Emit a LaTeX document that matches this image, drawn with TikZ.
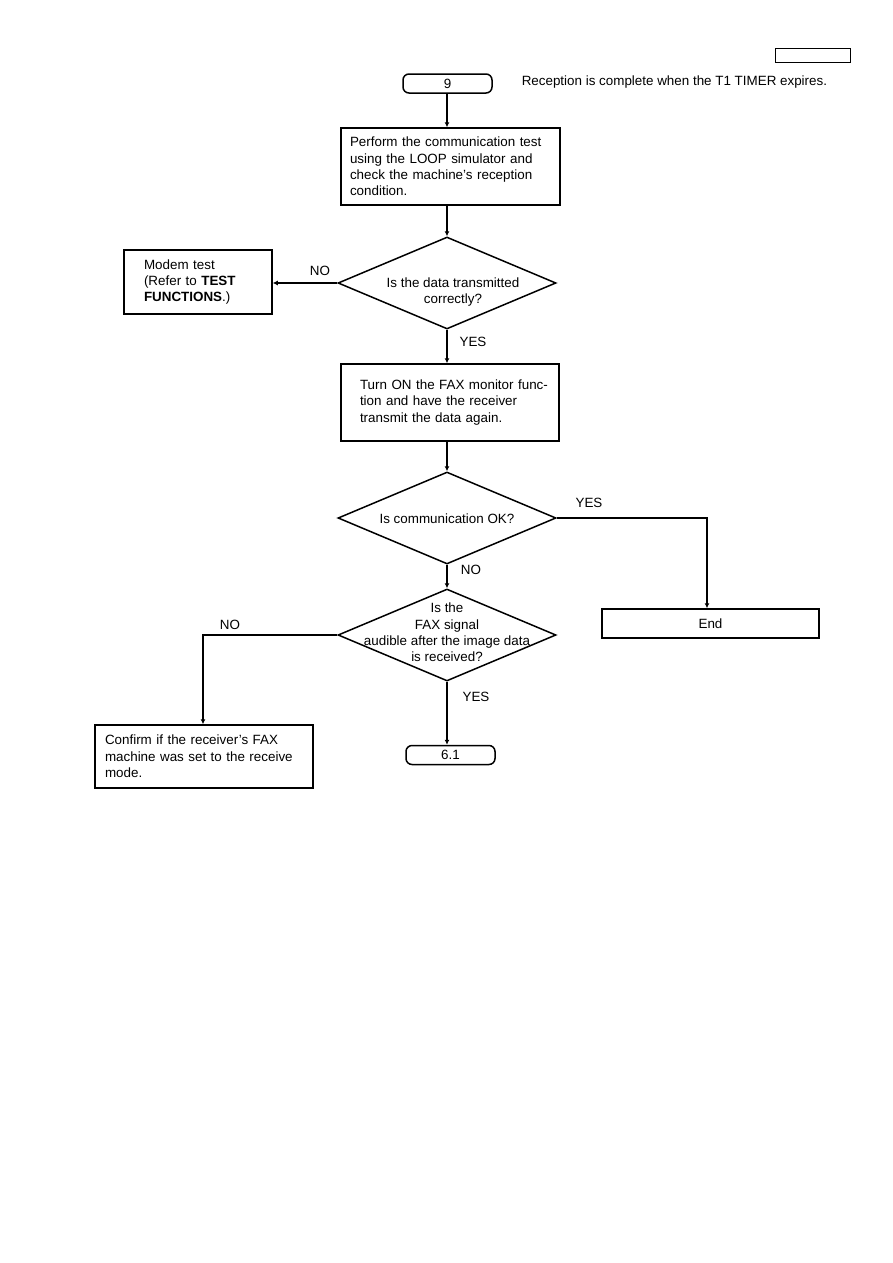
\documentclass[tikz,border=0pt]{standalone}
\usepackage{fontspec}
\setmainfont{Liberation Sans}
\usetikzlibrary{shapes.geometric,arrows.meta}
\begin{document}
\begin{tikzpicture}[x=1pt,y=-1pt,
  font=\fontsize{13.4}{16.4}\selectfont,
  every node/.style={line width=1.5pt},
  conn/.style={line width=1.5pt,-{Latex[length=5pt,width=5pt]}},
  term/.style={draw,rounded corners=6pt,inner sep=0pt,minimum width=89pt,minimum height=19pt},
  procbox/.style={draw,rectangle,align=left,inner ysep=0pt},
  dia/.style={draw,diamond,inner sep=0pt,minimum width=218pt,minimum height=92pt},
  lbl/.style={inner sep=0pt}
]
\useasboundingbox (0,0) rectangle (893,1263);

% header box
\node[draw,line width=1pt,minimum width=75pt,minimum height=14pt,inner sep=0pt] (hdr) at (812.5,56) {};

\node[term] (t9) at (447.5,83.5) {9};
\node[lbl,anchor=west] (note) at (521,82) {Reception is complete when the T1 TIMER expires.};

\node[procbox,minimum width=219pt,minimum height=77pt,text width=201pt,inner xsep=9pt] (b1) at (450.5,166.5)
  {Perform the communication test\\using the LOOP simulator and\\check the machine's reception\\condition.};

\node[dia] (d1) at (447,283) {};
\node[lbl,align=center] (d1t) at (453,292) {Is the data transmitted\\correctly?};

\node[procbox,minimum width=148pt,minimum height=64pt,text width=128pt,inner xsep=10pt] (modem) at (198,282)
  {\hspace*{10pt}Modem test\\\hspace*{10pt}(Refer to \textbf{TEST}\\\hspace*{10pt}\textbf{FUNCTIONS}.)};

\node[procbox,minimum width=218pt,minimum height=77pt,text width=210pt,inner xsep=4pt] (b2) at (450,402.5)
  {\hspace*{15pt}Turn ON the FAX monitor func-\\\hspace*{15pt}tion and have the receiver\\\hspace*{15pt}transmit the data again.};

\node[dia] (d2) at (447,518) {};
\node[lbl] (d2t) at (447,519) {Is communication OK?};

\node[procbox,minimum width=217pt,minimum height=29pt,align=center] (endb) at (710.5,623.5) {End};

\node[dia] (d3) at (447,635) {};
\node[lbl,align=center] (d3t) at (447,632.5) {Is the\\FAX signal\\audible after the image data\\is received?};

\node[procbox,minimum width=218pt,minimum height=63pt,text width=198pt,inner xsep=10pt] (conf) at (204,756.5)
  {Confirm if the receiver's FAX\\machine was set to the receive\\mode.};

\node[term] (t61) at (450.5,755) {6.1};

% labels
\node[lbl] (no1) at (320,271) {NO};
\node[lbl] (yes1) at (473,342) {YES};
\node[lbl] (yes2) at (589,503) {YES};
\node[lbl] (no2) at (471,570) {NO};
\node[lbl] (no3) at (230,625) {NO};
\node[lbl] (yes3) at (476,697) {YES};

\coordinate (c1) at (707,518);
\coordinate (c2) at (203,635);

% connectors
\draw[conn] (t9.south -| d1.north) -- (b1.north -| d1.north);
\draw[conn] (b1.south -| d1.north) -- (d1.north);
\draw[conn] (d1.west) -- (modem.east |- d1.west);
\draw[conn] (d1.south) -- (b2.north -| d1.south);
\draw[conn] (b2.south -| d2.north) -- (d2.north);
\draw[conn] (d2.east) -- (c1) -- (endb.north -| c1);
\draw[conn] (d2.south) -- (d3.north);
\draw[conn] (d3.west) -- (c2) -- (conf.north -| c2);
\draw[conn] (d3.south) -- (t61.north -| d3.south);
\end{tikzpicture}
\end{document}
